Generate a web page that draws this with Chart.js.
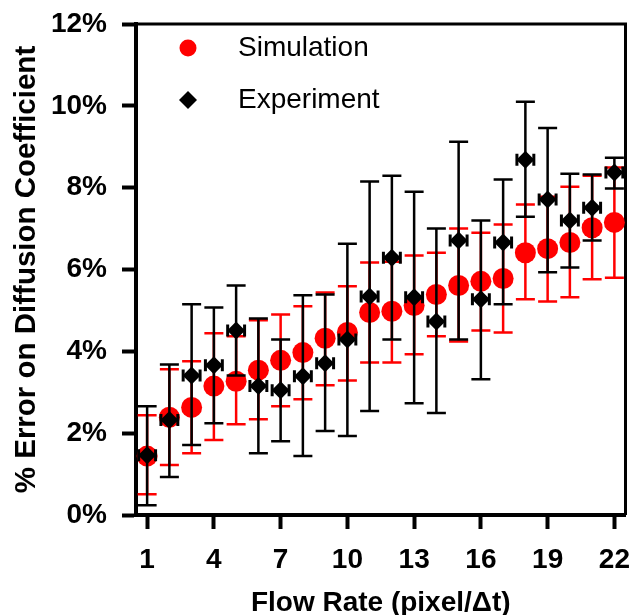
<!DOCTYPE html>
<html>
<head>
<meta charset="utf-8">
<script src="https://cdn.jsdelivr.net/npm/chart.js@4"></script>
<style>
html, body { margin: 0; padding: 0; background: #fff; }
</style>
</head>
<body>
<canvas id="chart" width="636" height="615"></canvas>
<script>
var flowRates = [1, 2, 3, 4, 5, 6, 7, 8, 9, 10, 11, 12, 13, 14, 15, 16, 17, 18, 19, 20, 21, 22];
var xTicks = [1, 4, 7, 10, 13, 16, 19, 22];

var simMean = [1.44, 2.39, 2.63, 3.15, 3.27, 3.54, 3.78, 3.97, 4.32, 4.46, 4.95, 4.98, 5.12, 5.39, 5.61, 5.71, 5.78, 6.41, 6.51, 6.66, 7.02, 7.15];
var simHigh = [2.44, 3.56, 3.76, 4.44, 4.37, 4.76, 4.90, 5.10, 5.44, 5.59, 6.17, 6.19, 6.34, 6.41, 7.00, 6.90, 7.10, 7.59, 7.78, 8.02, 8.29, 8.49];
var simLow  = [0.51, 1.22, 1.51, 1.83, 2.22, 2.34, 2.66, 2.83, 3.17, 3.29, 3.73, 3.73, 3.93, 4.37, 4.24, 4.51, 4.46, 5.27, 5.22, 5.32, 5.76, 5.80];

var expMean = [1.46, 2.32, 3.41, 3.66, 4.51, 3.15, 3.05, 3.39, 3.71, 4.29, 5.34, 6.29, 5.32, 4.73, 6.71, 5.27, 6.66, 8.68, 7.71, 7.20, 7.51, 8.37];
var expHigh = [2.66, 3.68, 5.15, 5.07, 5.61, 4.80, 4.29, 5.37, 5.39, 6.63, 8.15, 8.29, 7.90, 7.00, 9.12, 7.20, 8.20, 10.10, 9.46, 8.34, 8.32, 8.73];
var expLow  = [0.24, 0.93, 1.71, 2.24, 3.41, 1.51, 1.80, 1.44, 2.05, 1.93, 2.54, 4.29, 2.73, 2.49, 4.29, 3.32, 5.15, 7.29, 5.93, 6.05, 6.71, 7.98];
var expXErr = 0.38;

var FONT = '"Liberation Sans", Arial, sans-serif';

function points(ys) {
    return flowRates.map(function (x, i) { return { x: x, y: ys[i] }; });
}

// vertical (and optional horizontal) error bars, drawn under each dataset's markers
var errorBars = {
    id: 'errorBars',
    beforeDatasetDraw: function (chart, args) {
        var ds = chart.data.datasets[args.index];
        var sx = chart.scales.x, sy = chart.scales.y;
        var ctx = chart.ctx;
        var cap = 9.5;
        ctx.save();
        ctx.strokeStyle = ds.errColor;
        ctx.lineWidth = 2.5;
        ds.data.forEach(function (p, i) {
            var px = sx.getPixelForValue(p.x);
            var hi = sy.getPixelForValue(ds.errHigh[i]);
            var lo = sy.getPixelForValue(ds.errLow[i]);
            ctx.beginPath();
            ctx.moveTo(px, hi); ctx.lineTo(px, lo);
            ctx.moveTo(px - cap, hi); ctx.lineTo(px + cap, hi);
            ctx.moveTo(px - cap, lo); ctx.lineTo(px + cap, lo);
            ctx.stroke();
            if (ds.errX) {
                var py = sy.getPixelForValue(p.y);
                var l = sx.getPixelForValue(p.x - ds.errX);
                var r = sx.getPixelForValue(p.x + ds.errX);
                ctx.lineWidth = 3;
                ctx.beginPath();
                ctx.moveTo(l, py); ctx.lineTo(r, py);
                ctx.moveTo(l, py - 6); ctx.lineTo(l, py + 6);
                ctx.moveTo(r, py - 6); ctx.lineTo(r, py + 6);
                ctx.stroke();
                ctx.lineWidth = 2.5;
            }
        });
        ctx.restore();
    }
};

var frame = {
    id: 'frame',
    beforeDatasetsDraw: function (chart) {
        var a = chart.chartArea, ctx = chart.ctx;
        ctx.save();
        ctx.strokeStyle = '#000';
        ctx.lineWidth = 3;
        ctx.beginPath();
        ctx.moveTo(a.left, a.top);
        ctx.lineTo(a.right, a.top);
        ctx.lineTo(a.right, a.bottom);
        ctx.stroke();
        ctx.restore();
    }
};

var legendBox = {
    id: 'legendBox',
    afterDraw: function (chart) {
        var ctx = chart.ctx;
        ctx.save();
        ctx.fillStyle = '#ff0000';
        ctx.beginPath();
        ctx.arc(188, 48, 8.5, 0, Math.PI * 2);
        ctx.fill();
        ctx.fillStyle = '#000';
        ctx.beginPath();
        ctx.moveTo(188, 91); ctx.lineTo(197, 100); ctx.lineTo(188, 109); ctx.lineTo(179, 100);
        ctx.closePath();
        ctx.fill();
        ctx.font = '28px ' + FONT;
        ctx.textBaseline = 'middle';
        ctx.textAlign = 'left';
        ctx.fillText('Simulation', 238, 48);
        ctx.fillText('Experiment', 238, 100);
        ctx.restore();
    }
};

new Chart(document.getElementById('chart').getContext('2d'), {
    type: 'scatter',
    data: {
        datasets: [
            {
                label: 'Simulation',
                data: points(simMean),
                errHigh: simHigh,
                errLow: simLow,
                errColor: '#ff0000',
                pointStyle: 'circle',
                pointRadius: 10.5,
                pointHoverRadius: 10.5,
                backgroundColor: '#ff0000',
                borderWidth: 0,
                order: 1
            },
            {
                label: 'Experiment',
                data: points(expMean),
                errHigh: expHigh,
                errLow: expLow,
                errX: expXErr,
                errColor: '#000000',
                pointStyle: 'rectRot',
                pointRadius: 9,
                pointHoverRadius: 9,
                backgroundColor: '#000000',
                borderWidth: 0,
                order: 0
            }
        ]
    },
    options: {
        responsive: false,
        animation: false,
        layout: { padding: { top: 24, right: 9, left: 0, bottom: 0 } },
        plugins: {
            legend: { display: false },
            tooltip: { enabled: false }
        },
        scales: {
            x: {
                type: 'linear',
                min: 0.5,
                max: 22.5,
                afterBuildTicks: function (scale) {
                    scale.ticks = xTicks.map(function (v) { return { value: v }; });
                },
                afterFit: function (scale) {
                    scale.height = 100;
                    scale.paddingLeft = 0;
                    scale.paddingRight = 0;
                },
                border: { display: true, color: '#000', width: 4 },
                grid: { drawOnChartArea: false, drawTicks: true, tickLength: 14, tickWidth: 4, tickColor: '#000', color: '#000' },
                ticks: {
                    color: '#000',
                    padding: 14,
                    maxRotation: 0,
                    font: { family: FONT, size: 28, weight: 'bold' }
                },
                title: {
                    display: true,
                    text: 'Flow Rate (pixel/\u0394t)',
                    color: '#000',
                    padding: { top: 0, bottom: 0 },
                    font: { family: FONT, size: 28, weight: 'bold', lineHeight: 0.85 }
                }
            },
            y: {
                min: 0,
                max: 12,
                afterFit: function (scale) {
                    scale.width = 136;
                    scale.paddingTop = 0;
                    scale.paddingBottom = 0;
                },
                border: { display: true, color: '#000', width: 4 },
                grid: { drawOnChartArea: false, drawTicks: true, tickLength: 14, tickWidth: 4, tickColor: '#000', color: '#000' },
                ticks: {
                    stepSize: 2,
                    color: '#000',
                    padding: 15,
                    font: { family: FONT, size: 28, weight: 'bold' },
                    callback: function (v) { return v + '%'; }
                },
                title: {
                    display: true,
                    text: '% Error on Diffusion Coefficient',
                    color: '#000',
                    padding: { top: 9, bottom: 0 },
                    font: { family: FONT, size: 29.5, weight: 'bold' }
                }
            }
        }
    },
    plugins: [errorBars, frame, legendBox]
});
</script>
</body>
</html>
